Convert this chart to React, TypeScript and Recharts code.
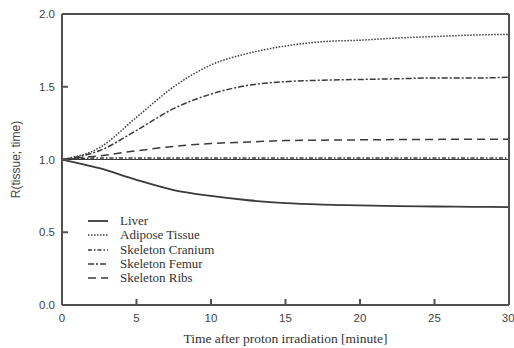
import { LineChart, Line, XAxis, YAxis, ReferenceLine } from 'recharts'

const time = [0, 2.5, 5, 7.5, 10, 12.5, 15, 17.5, 20, 22.5, 25, 27.5, 30]
const liver = [1.0, 0.94, 0.86, 0.79, 0.75, 0.72, 0.7, 0.69, 0.685, 0.68, 0.677, 0.675, 0.673]
const adipose = [1.0, 1.08, 1.29, 1.5, 1.65, 1.73, 1.78, 1.81, 1.82, 1.835, 1.845, 1.855, 1.86]
const cranium = [1.0, 1.01, 1.01, 1.01, 1.01, 1.01, 1.01, 1.01, 1.01, 1.01, 1.01, 1.01, 1.01]
const femur = [1.0, 1.06, 1.2, 1.35, 1.45, 1.51, 1.535, 1.545, 1.55, 1.555, 1.56, 1.56, 1.565]
const ribs = [1.0, 1.025, 1.06, 1.09, 1.11, 1.12, 1.13, 1.133, 1.135, 1.137, 1.138, 1.14, 1.14]

const xTicks = [0, 5, 10, 15, 20, 25, 30]
const yTicks = [0, 0.5, 1, 1.5, 2]

const series = [
  { key: 'liver', name: 'Liver', dash: undefined, width: 1.8 },
  { key: 'adipose', name: 'Adipose Tissue', dash: '1.5 1.5', width: 1.5 },
  { key: 'cranium', name: 'Skeleton Cranium', dash: '4 2 1.5 2', width: 1.5 },
  { key: 'femur', name: 'Skeleton Femur', dash: '6 2 2 2', width: 1.5 },
  { key: 'ribs', name: 'Skeleton Ribs', dash: '8 5', width: 1.5 },
]

const ink = '#3a3a3a'
const axisInk = '#505050'
const serif = '"Liberation Serif", "DejaVu Serif", serif'
const sans = '"Liberation Sans", Arial, sans-serif'

const data = time.map((t, i) => ({
  t,
  liver: liver[i],
  adipose: adipose[i],
  cranium: cranium[i],
  femur: femur[i],
  ribs: ribs[i],
}))

function LegendBox() {
  return (
    <div
      style={{
        position: 'absolute',
        left: 88,
        top: 214,
        fontFamily: serif,
        fontSize: 13,
        color: '#333',
        lineHeight: '14.3px',
      }}
    >
      {series.map((s) => (
        <div key={s.key} style={{ display: 'flex', alignItems: 'center', height: 14.3 }}>
          <svg width={22} height={8} style={{ marginRight: 10 }}>
            <line x1={0} y1={4} x2={20} y2={4} stroke={ink} strokeWidth={s.width} strokeDasharray={s.dash} />
          </svg>
          <span>{s.name}</span>
        </div>
      ))}
    </div>
  )
}

export default function App() {
  return (
    <div style={{ position: 'absolute', left: 0, top: 0, width: 514, height: 348, background: '#fff' }}>
      <LineChart width={514} height={348} data={data} margin={{ top: 14, right: 5, bottom: 0, left: 0 }}>
        <XAxis
          dataKey="t"
          type="number"
          domain={[0, 30]}
          ticks={xTicks}
          tickSize={-6}
          tickMargin={15}
          height={43}
          stroke={axisInk}
          strokeWidth={2}
          tick={{ fontSize: 11.5, fill: '#444', fontFamily: sans }}
          label={{
            value: 'Time after proton irradiation [minute]',
            position: 'insideBottom',
            offset: 5,
            style: { fontFamily: serif, fontSize: 13.5, fill: '#333' },
          }}
        />
        <XAxis
          xAxisId="top"
          dataKey="t"
          type="number"
          orientation="top"
          domain={[0, 30]}
          ticks={xTicks}
          mirror
          height={1}
          tick={false}
          stroke={axisInk}
          strokeWidth={2}
        />
        <YAxis
          type="number"
          domain={[0, 2]}
          ticks={yTicks}
          tickSize={-6}
          tickMargin={13}
          width={62}
          stroke={axisInk}
          strokeWidth={2}
          tickFormatter={(v: number) => v.toFixed(1)}
          tick={{ fontSize: 11.5, fill: '#444', fontFamily: sans }}
          label={{
            value: 'R(tissue; time)',
            angle: -90,
            position: 'insideLeft',
            offset: 16,
            style: { textAnchor: 'middle', fontFamily: sans, fontSize: 12, fill: '#444' },
          }}
        />
        <YAxis
          yAxisId="right"
          orientation="right"
          type="number"
          domain={[0, 2]}
          ticks={yTicks}
          mirror
          width={1}
          tick={false}
          stroke={axisInk}
          strokeWidth={2}
        />
        <ReferenceLine y={1} stroke={ink} strokeWidth={1.2} />
        {series.map((s) => (
          <Line
            key={s.key}
            dataKey={s.key}
            name={s.name}
            type="monotone"
            stroke={ink}
            strokeWidth={s.width}
            strokeDasharray={s.dash}
            dot={false}
            isAnimationActive={false}
          />
        ))}
      </LineChart>
      <LegendBox />
    </div>
  )
}
